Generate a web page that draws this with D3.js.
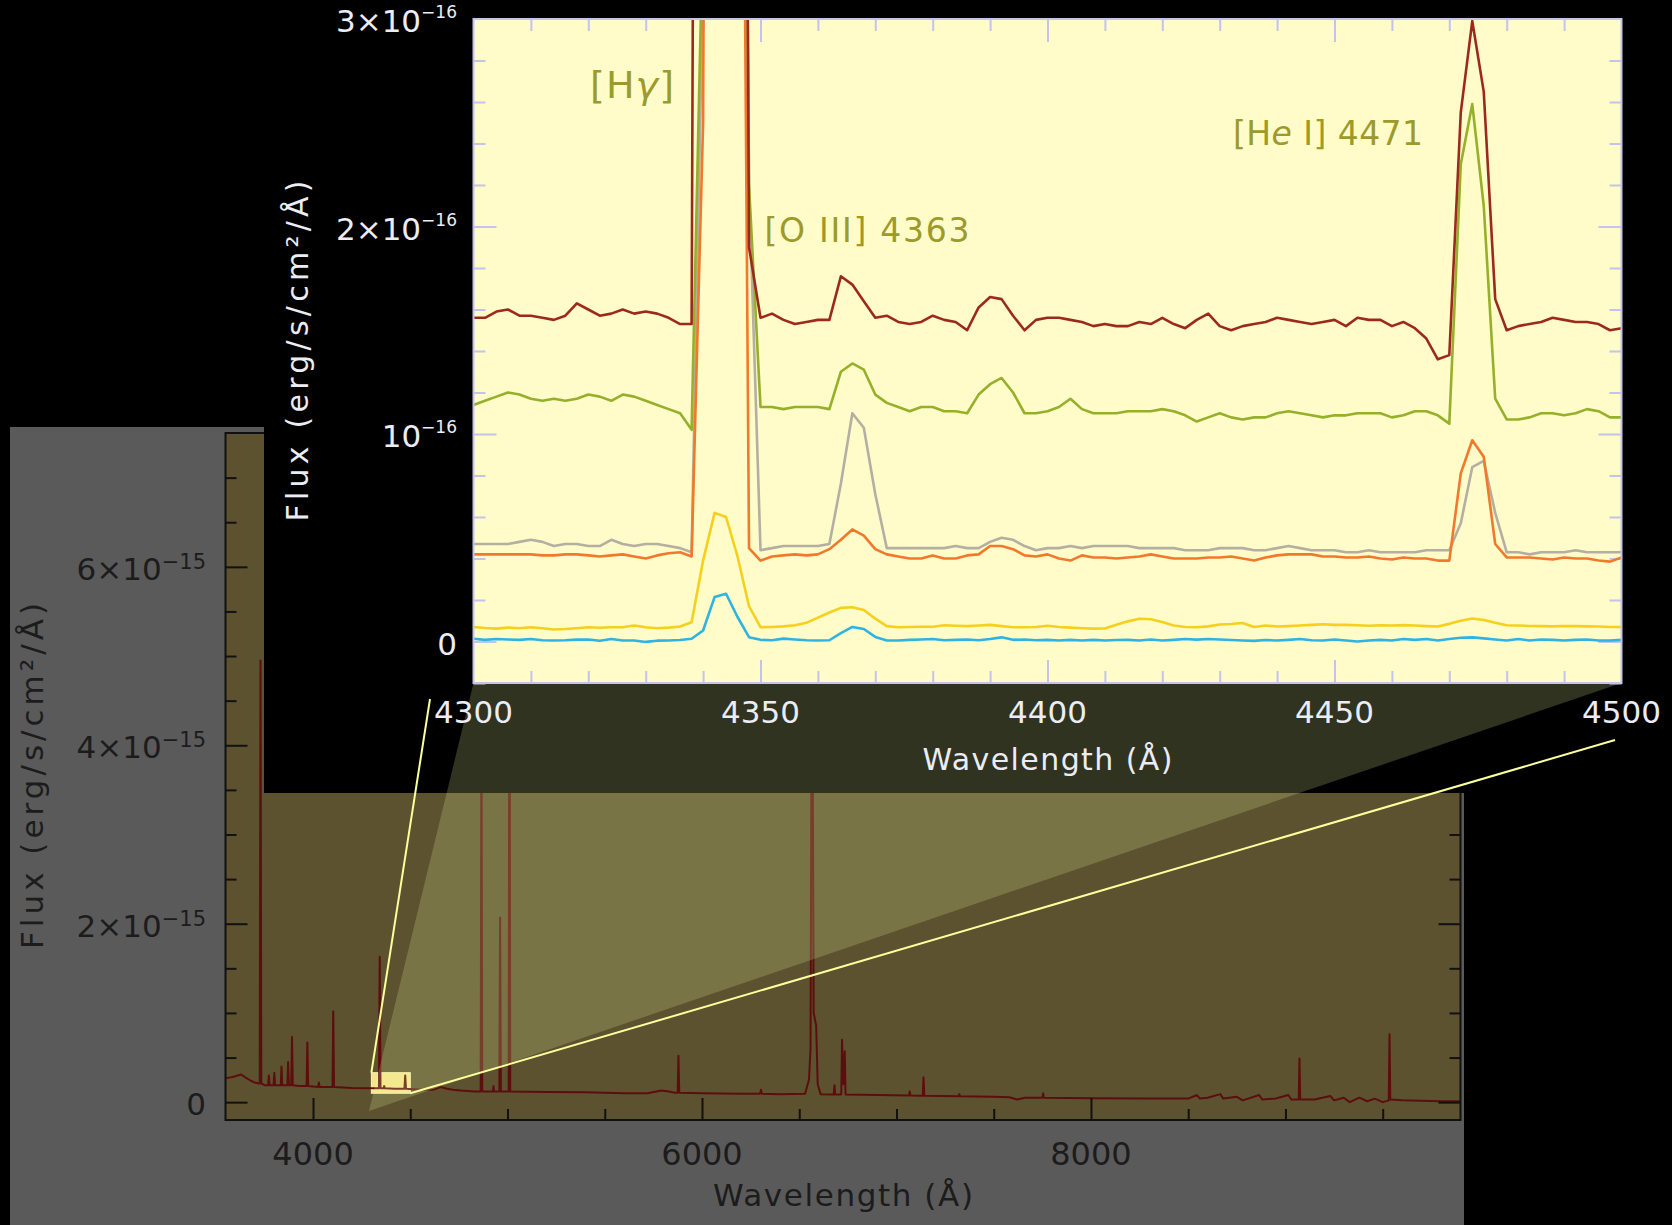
<!DOCTYPE html>
<html>
<head>
<meta charset="utf-8">
<script src="https://cdn.jsdelivr.net/npm/d3@7"></script>
<style>
  html, body { margin: 0; padding: 0; background: #000; }
  svg { display: block; }
  text { font-family: "DejaVu Sans", sans-serif; }
</style>
</head>
<body>
<svg id="chart" width="1672" height="1225"></svg>
<script>
// ---------- Full optical spectrum (flux in 1e-15 erg/s/cm2/Å) ----------
const fullWave = [
  3552,3580,3600,3630,3650,3680,3700,3722,
  3726,3730,3734,3750,
  3769,3773,3777,3797,3801,3805,3834,3838,3842,3868,3872,3876,3888,3892,3896,3930,
  3967,3971,3975,4026,4030,4034,4100,4104,4108,4200,
  4339,4343,4347,4363,4366,4369,4420,4470,4474,4478,
  4560,4620,4655,4690,4720,4760,4830,
  4862,4866,4870,4925,4928,4931,4958,4962,4966,5006,5010,5014,
  5200,5400,5600,5720,5790,5830,5860,5875,5879,5883,
  6000,6200,6299,6303,6307,6400,
  6530,6550,6558,6566,6574,6587,6595,6610,
  6677,6681,6685,6716,6720,6727,6734,6738,6900,
  7064,7068,7072,7135,7139,7143,7319,7323,7327,
  7500,7580,7620,7660,7750,7754,7758,8000,8300,8500,
  8545,8560,8600,8665,8680,8750,8780,8865,8880,8950,9015,9030,
  9068,9072,9076,9150,9230,9250,9300,9330,9380,9420,9460,9500,
  9531,9535,9539,9600,9700,9800,9900
];
const fullFlux = [
  0.27,0.28,0.29,0.31,0.28,0.24,0.22,0.21,
  0.21,4.95,0.21,0.19,
  0.19,0.30,0.19,0.19,0.33,0.19,0.19,0.40,0.19,0.19,0.45,0.19,0.19,0.73,0.19,0.18,
  0.18,0.67,0.18,0.17,0.22,0.17,0.17,1.02,0.17,0.16,
  0.155,1.63,0.155,0.155,0.18,0.155,0.15,0.15,0.30,0.15,
  0.14,0.14,0.17,0.15,0.14,0.13,0.12,
  0.12,4.2,0.12,0.12,0.18,0.12,0.12,2.07,0.12,0.12,6.3,0.12,
  0.115,0.11,0.10,0.10,0.13,0.12,0.105,0.105,0.52,0.105,
  0.10,0.095,0.095,0.14,0.095,0.09,
  0.095,0.25,0.6,6.0,1.0,0.86,0.2,0.09,
  0.085,0.19,0.085,0.085,0.70,0.2,0.57,0.085,0.08,
  0.075,0.12,0.075,0.072,0.28,0.072,0.065,0.09,0.065,
  0.06,0.055,0.03,0.05,0.05,0.10,0.05,0.045,0.04,0.04,
  0.08,0.04,0.05,0.09,0.04,0.06,0.02,0.08,0.03,0.04,0.08,0.03,
  0.03,0.49,0.03,0.03,0.07,0.02,0.05,0.0,0.05,0.01,0.04,0.0,
  0.02,0.76,0.03,0.02,0.015,0.01,0.01
];
const fullXMajor = [4000, 6000, 8000];
const fullXMinor = [4500, 5000, 5500, 6500, 7000, 7500, 8500, 9000, 9500];
const fullYMajor = [0, 2, 4, 6];
const fullYMinor = [0.5, 1, 1.5, 2.5, 3, 3.5, 4.5, 5, 5.5, 6.5, 7];
const zoomWindow = { w0: 4300, w1: 4500, f0: 0.1, f1: 0.33 };

// ---------- Zoomed window 4300–4500 Å (flux in 1e-16 erg/s/cm2/Å), 2 Å sampling ----------
const zoomWave = d3.range(4300, 4501, 2);
const fluxRed = [
  1.56,1.56,1.59,1.60,1.57,1.57,1.56,1.55,1.57,1.63, 1.60,1.57,1.58,1.60,1.58,1.59,1.58,1.56,1.53,1.53,
  16,17,16,12,1.9,
  1.56,1.58,1.55,1.53,1.54,1.55,1.55,1.76,1.72,1.64, 1.56,1.57,1.54,1.53,1.54,1.57,1.55,1.54,1.50,1.61, 1.66,1.65,1.57,1.50,1.55,
  1.56,1.56,1.55,1.54,1.52,1.53,1.52,1.52,1.54,1.53, 1.56,1.53,1.51,1.55,1.58,1.52,1.50,1.52,1.53,1.54, 1.56,1.55,1.54,1.53,1.54,
  1.55,1.52,1.56,1.55,1.55,1.52,1.54,1.51,1.46,1.36, 1.38,2.55,2.99,2.65,1.65,1.50,1.52,1.53,1.54,1.56, 1.55,1.54,1.54,1.53,1.50,1.51
];
const fluxGreen = [
  1.14,1.16,1.18,1.20,1.19,1.17,1.16,1.17,1.16,1.17, 1.19,1.18,1.16,1.19,1.18,1.16,1.14,1.12,1.10,1.02,
  3.5,14,13,9,2.2,
  1.13,1.13,1.12,1.13,1.13,1.13,1.12,1.30,1.34,1.31, 1.19,1.15,1.13,1.11,1.13,1.13,1.11,1.11,1.10,1.19, 1.24,1.27,1.20,1.10,1.10,
  1.11,1.13,1.17,1.12,1.10,1.10,1.10,1.11,1.11,1.11, 1.12,1.11,1.09,1.06,1.08,1.10,1.08,1.07,1.08,1.08, 1.10,1.11,1.10,1.09,1.08,
  1.09,1.09,1.10,1.10,1.10,1.08,1.09,1.11,1.11,1.09, 1.05,2.30,2.59,2.10,1.17,1.07,1.07,1.08,1.10,1.10, 1.09,1.10,1.12,1.11,1.08,1.08
];
const fluxGray = [
  0.47,0.47,0.47,0.47,0.48,0.49,0.48,0.46,0.47,0.47, 0.46,0.46,0.49,0.47,0.46,0.47,0.47,0.46,0.45,0.43,
  3.2,14,14,10,2.2,
  0.44,0.45,0.46,0.46,0.46,0.46,0.47,0.76,1.10,1.03, 0.71,0.45,0.45,0.45,0.45,0.45,0.45,0.46,0.45,0.45, 0.48,0.50,0.49,0.46,0.44,
  0.45,0.45,0.46,0.45,0.46,0.46,0.46,0.46,0.45,0.45, 0.45,0.45,0.44,0.44,0.44,0.45,0.45,0.45,0.44,0.44, 0.45,0.46,0.45,0.44,0.44,
  0.44,0.43,0.43,0.44,0.43,0.43,0.43,0.43,0.44,0.44, 0.44,0.57,0.84,0.87,0.62,0.43,0.43,0.42,0.43,0.43, 0.43,0.44,0.43,0.43,0.43,0.43
];
const fluxOrange = [
  0.42,0.42,0.42,0.42,0.42,0.42,0.415,0.415,0.42,0.42, 0.415,0.41,0.415,0.42,0.41,0.40,0.415,0.425,0.43,0.41,
  2.5,16,15,8,0.45,
  0.39,0.41,0.415,0.42,0.415,0.42,0.445,0.49,0.54,0.51, 0.445,0.42,0.41,0.40,0.40,0.415,0.40,0.40,0.415,0.42, 0.46,0.46,0.445,0.415,0.41,
  0.42,0.40,0.39,0.415,0.405,0.405,0.40,0.405,0.41,0.42, 0.41,0.40,0.40,0.40,0.405,0.405,0.41,0.40,0.39,0.405, 0.415,0.42,0.42,0.42,0.41,
  0.41,0.405,0.405,0.41,0.40,0.395,0.405,0.40,0.40,0.39, 0.39,0.81,0.97,0.89,0.47,0.405,0.405,0.405,0.40,0.395, 0.405,0.40,0.40,0.39,0.385,0.405
];
const fluxYellow = [
  0.070,0.065,0.062,0.067,0.064,0.069,0.064,0.058,0.060,0.064, 0.069,0.066,0.069,0.069,0.077,0.069,0.064,0.067,0.072,0.093,
  0.39,0.62,0.60,0.41,0.17,
  0.069,0.070,0.073,0.078,0.090,0.115,0.140,0.162,0.165,0.152, 0.110,0.074,0.069,0.070,0.071,0.071,0.078,0.076,0.074,0.077, 0.080,0.074,0.069,0.069,0.070,
  0.076,0.070,0.067,0.064,0.062,0.063,0.081,0.097,0.110,0.107, 0.094,0.077,0.070,0.069,0.073,0.082,0.084,0.089,0.070,0.077, 0.072,0.074,0.077,0.080,0.083,
  0.080,0.080,0.078,0.076,0.078,0.077,0.079,0.077,0.074,0.072, 0.085,0.100,0.111,0.104,0.090,0.078,0.077,0.075,0.074,0.073, 0.075,0.074,0.073,0.072,0.070,0.070
];
const fluxCyan = [
  0.013,0.008,0.012,0.010,0.008,0.012,0.006,0.005,0.006,0.009, 0.010,0.004,0.012,0.005,0.005,-0.002,0.004,0.005,0.007,0.013,
  0.053,0.214,0.230,0.118,0.021,
  0.008,0.006,0.014,0.010,0.006,0.005,0.006,0.040,0.070,0.060, 0.022,0.005,0.005,0.008,0.010,0.012,0.006,0.008,0.010,0.006, 0.012,0.020,0.008,0.010,0.006,
  0.008,0.005,0.008,0.005,0.008,0.005,0.007,0.008,0.005,0.010, 0.005,0.008,0.012,0.009,0.012,0.010,0.007,0.005,0.003,0.007, 0.005,0.008,0.012,0.006,0.005,
  0.010,0.005,0.000,0.005,0.008,0.005,0.012,0.008,0.012,0.005, 0.012,0.018,0.020,0.015,0.010,0.005,0.012,0.005,0.010,0.008, 0.005,0.008,0.010,0.005,0.005,0.008
];
const zoomXLabels = [4300, 4350, 4400, 4450, 4500];
const zoomXMajor = [4350, 4400, 4450];
const zoomXMinor = d3.range(4310, 4500, 10).filter(v => v % 50 !== 0);
const zoomYMajor = [0, 1, 2];
const zoomYMinor = [-0.2, 0.2, 0.4, 0.6, 0.8, 1.2, 1.4, 1.6, 1.8, 2.2, 2.4, 2.6, 2.8];
const zoomYLabels = [0, 1, 2, 3];

// line identifications; parts flagged italic are set in italics
const lineLabels = [
  { parts: [["[H", false], ["γ", true], ["]", false]], x: 632, y: 98, len: 84, size: 38 },
  { parts: [["[O III] 4363", false]], x: 867, y: 242, len: 205, size: 33 },
  { parts: [["[H", false], ["e", true], [" I] 4471", false]], x: 1328, y: 145, len: 190, size: 33 }
];

// ---------- Drawing ----------
const svg = d3.select("#chart");

const xFull = d3.scaleLinear().domain([3550, 9900]).range([225.5, 1460.5]);
const yFull = d3.scaleLinear().domain([-0.2, 7.5]).range([1120, 433]);
const xZoom = d3.scaleLinear().domain([4300, 4500]).range([473.5, 1621.5]);
const yZoom = d3.scaleLinear().domain([-0.2, 3.0]).range([683, 19]);

svg.append("rect").attr("width", 1672).attr("height", 1225).attr("fill", "#000");

// grey backdrop of the full-range panel
svg.append("rect").attr("x", 10).attr("y", 427).attr("width", 1454).attr("height", 798)
  .attr("fill", "#5a5a5a");

const [fx0, fx1] = xFull.range();
const [fy0, fy1] = yFull.range();
svg.append("rect").attr("x", fx0).attr("y", fy1).attr("width", fx1 - fx0).attr("height", fy0 - fy1)
  .attr("fill", "#5d522f");

// highlighted window
svg.append("rect")
  .attr("x", xFull(zoomWindow.w0)).attr("y", yFull(zoomWindow.f1))
  .attr("width", xFull(zoomWindow.w1) - xFull(zoomWindow.w0))
  .attr("height", yFull(zoomWindow.f0) - yFull(zoomWindow.f1))
  .attr("fill", "#f7e48a").attr("stroke", "#fff6b8").attr("stroke-width", 1);

svg.append("defs").append("clipPath").attr("id", "fullClip")
  .append("rect").attr("x", fx0).attr("y", fy1).attr("width", fx1 - fx0).attr("height", fy0 - fy1);

const fullLine = d3.line().x((d, i) => xFull(fullWave[i])).y(d => yFull(d));
svg.append("path").attr("d", fullLine(fullFlux)).attr("clip-path", "url(#fullClip)")
  .attr("fill", "none").attr("stroke", "#5c0e0e").attr("stroke-width", 2).attr("stroke-linejoin", "round");

// frame and ticks of the full-range panel
svg.append("rect").attr("x", fx0).attr("y", fy1).attr("width", fx1 - fx0).attr("height", fy0 - fy1)
  .attr("fill", "none").attr("stroke", "#111").attr("stroke-width", 2);

function ticks(axisFn, scale, values, size, tx, ty, color, width) {
  const g = svg.append("g").attr("transform", `translate(${tx},${ty})`)
    .call(axisFn(scale).tickValues(values).tickSize(size).tickFormat(""));
  g.select(".domain").remove();
  g.selectAll("line").attr("stroke", color).attr("stroke-width", width);
  return g;
}
ticks(d3.axisBottom, xFull, fullXMajor, -22, 0, fy0, "#111", 2);
ticks(d3.axisBottom, xFull, fullXMinor, -11, 0, fy0, "#111", 2);
ticks(d3.axisTop, xFull, fullXMajor, -22, 0, fy1, "#111", 2);
ticks(d3.axisTop, xFull, fullXMinor, -11, 0, fy1, "#111", 2);
ticks(d3.axisLeft, yFull, fullYMajor, -22, fx0, 0, "#111", 2);
ticks(d3.axisLeft, yFull, fullYMinor, -11, fx0, 0, "#111", 2);
ticks(d3.axisRight, yFull, fullYMajor, -22, fx1, 0, "#111", 2);
ticks(d3.axisRight, yFull, fullYMinor, -11, fx1, 0, "#111", 2);

function powerLabel(x, y, v, exp, size, supSize, rise, fill) {
  const t = svg.append("text").attr("x", x).attr("y", y).attr("text-anchor", "end")
    .attr("font-size", size).attr("fill", fill);
  if (v === 0) { t.text("0"); return; }
  t.append("tspan").text((v === 1 ? "" : v + "×") + "10");
  t.append("tspan").attr("font-size", supSize).attr("dy", -rise).text("−" + exp);
}
fullYMajor.forEach(v => powerLabel(206, yFull(v) + 13, v, 15, 31, 21, 11, "#1c1c1c"));
fullXMajor.forEach(v => {
  svg.append("text").attr("x", xFull(v)).attr("y", 1165).attr("text-anchor", "middle")
    .attr("font-size", 32).attr("fill", "#1c1c1c").text(v);
});
svg.append("text").attr("x", (fx0 + fx1) / 2).attr("y", 1206).attr("text-anchor", "middle")
  .attr("font-size", 31).attr("fill", "#1c1c1c")
  .attr("textLength", 260).attr("lengthAdjust", "spacing").text("Wavelength (Å)");
svg.append("text").attr("transform", "translate(43,776) rotate(-90)").attr("text-anchor", "middle")
  .attr("font-size", 31).attr("fill", "#1c1c1c")
  .attr("textLength", 346).attr("lengthAdjust", "spacing").text("Flux (erg/s/cm²/Å)");

// black field behind the zoomed panel
svg.append("rect").attr("x", 264).attr("y", 0).attr("width", 1408).attr("height", 793).attr("fill", "#000");

// projection cone from the highlighted window to the zoomed panel
const [zx0, zx1] = xZoom.range();
const [zy0, zy1] = yZoom.range();
svg.append("path")
  .attr("d", d3.line()([[369, 1111], [zx0, zy0], [zx1, zy0]]) + "Z")
  .attr("fill", "rgb(235,255,160)").attr("fill-opacity", 0.2);

svg.append("line").attr("x1", xFull(zoomWindow.w0)).attr("y1", yFull(zoomWindow.f1))
  .attr("x2", 430).attr("y2", 699).attr("stroke", "#fbff9c").attr("stroke-width", 2);
svg.append("line").attr("x1", xFull(zoomWindow.w1)).attr("y1", yFull(zoomWindow.f0))
  .attr("x2", 1615).attr("y2", 740).attr("stroke", "#fbff9c").attr("stroke-width", 2);

// zoomed panel
svg.append("rect").attr("x", zx0).attr("y", zy1).attr("width", zx1 - zx0).attr("height", zy0 - zy1)
  .attr("fill", "#fffcc9");
svg.select("defs").append("clipPath").attr("id", "zoomClip")
  .append("rect").attr("x", zx0).attr("y", zy1).attr("width", zx1 - zx0).attr("height", zy0 - zy1);

const tickCol = "#c3c3ec";
ticks(d3.axisBottom, xZoom, zoomXMajor, -23, 0, zy0, tickCol, 2);
ticks(d3.axisBottom, xZoom, zoomXMinor, -12, 0, zy0, tickCol, 2);
ticks(d3.axisTop, xZoom, zoomXMajor, -23, 0, zy1, tickCol, 2);
ticks(d3.axisTop, xZoom, zoomXMinor, -12, 0, zy1, tickCol, 2);
ticks(d3.axisLeft, yZoom, zoomYMajor, -23, zx0, 0, tickCol, 2);
ticks(d3.axisLeft, yZoom, zoomYMinor, -12, zx0, 0, tickCol, 2);
ticks(d3.axisRight, yZoom, zoomYMajor, -23, zx1, 0, tickCol, 2);
ticks(d3.axisRight, yZoom, zoomYMinor, -12, zx1, 0, tickCol, 2);

const series = [
  { values: fluxCyan, color: "#2fb3e3" },
  { values: fluxYellow, color: "#f5d01c" },
  { values: fluxGray, color: "#b5aea2" },
  { values: fluxOrange, color: "#f2782c" },
  { values: fluxGreen, color: "#95b02a" },
  { values: fluxRed, color: "#9c2a1c" }
];
const zoomLine = d3.line().x((d, i) => xZoom(zoomWave[i])).y(d => yZoom(d));
const lg = svg.append("g").attr("clip-path", "url(#zoomClip)");
series.forEach(s => {
  lg.append("path").attr("d", zoomLine(s.values)).attr("fill", "none")
    .attr("stroke", s.color).attr("stroke-width", 2.6)
    .attr("stroke-linejoin", "round").attr("stroke-linecap", "round");
});

svg.append("rect").attr("x", zx0).attr("y", zy1).attr("width", zx1 - zx0).attr("height", zy0 - zy1)
  .attr("fill", "none").attr("stroke", tickCol).attr("stroke-width", 2);

lineLabels.forEach(l => {
  const t = svg.append("text").attr("x", l.x).attr("y", l.y).attr("text-anchor", "middle")
    .attr("font-family", "'Noto Sans', sans-serif").attr("font-size", l.size).attr("fill", "#9c9a2a")
    .attr("textLength", l.len).attr("lengthAdjust", "spacing");
  l.parts.forEach(([part, italic]) => {
    const sp = t.append("tspan").text(part);
    if (italic) sp.attr("font-style", "italic");
  });
});

// zoomed panel labels
const lightText = "#ececf4";
zoomYLabels.forEach(v => powerLabel(457, yZoom(v) + 13, v, 16, 31, 17, 14, lightText));
zoomXLabels.forEach(v => {
  svg.append("text").attr("x", xZoom(v)).attr("y", 723).attr("text-anchor", "middle")
    .attr("font-size", 31).attr("fill", lightText).text(v);
});
svg.append("text").attr("x", (zx0 + zx1) / 2).attr("y", 770).attr("text-anchor", "middle")
  .attr("font-size", 30).attr("fill", lightText)
  .attr("textLength", 250).attr("lengthAdjust", "spacing").text("Wavelength (Å)");
svg.append("text").attr("transform", `translate(308,${(zy0 + zy1) / 2}) rotate(-90)`).attr("text-anchor", "middle")
  .attr("font-size", 30).attr("fill", lightText)
  .attr("textLength", 341).attr("lengthAdjust", "spacing").text("Flux (erg/s/cm²/Å)");
</script>
</body>
</html>
